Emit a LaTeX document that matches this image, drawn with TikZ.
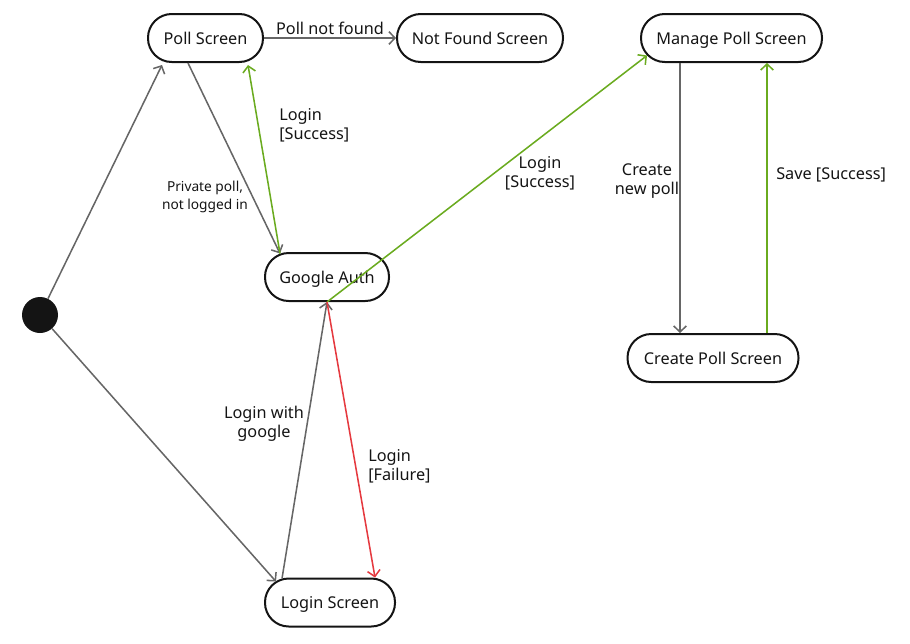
\documentclass[tikz,border=0pt]{standalone}
\usepackage{fontspec}
\setmainfont{Noto Sans}
\usetikzlibrary{arrows.meta,calc}
\definecolor{edgegray}{HTML}{666666}
\definecolor{okgreen}{HTML}{6AAB1F}
\definecolor{badred}{HTML}{E5393F}
\definecolor{ink}{HTML}{141414}
\begin{document}
\begin{tikzpicture}[x=0.75pt,y=-0.75pt,
  state/.style={draw=ink,line width=1.5pt,rounded corners=17.8pt,minimum height=36pt,
    inner sep=0pt,font=\fontsize{12.2}{14}\selectfont,text=ink,text height=9.4pt,text depth=0pt},
  edge/.style={line width=1.15pt,draw=edgegray,-{Straight Barb[length=4.5pt,width=9.5pt]}},
  okedge/.style={edge,draw=okgreen},
  badedge/.style={edge,draw=badred},
  lbl/.style={font=\fontsize{12.2}{14.2}\selectfont,text=ink,inner sep=0pt},
  slbl/.style={font=\fontsize{10.3}{13.5}\selectfont,text=ink,inner sep=0pt}]
\useasboundingbox (0,0) rectangle (910,643);
\node[state,minimum width=86.25pt] (poll) at (205.5,38) {Poll Screen};
\node[state,minimum width=124.5pt] (notfound) at (480,38) {Not Found Screen};
\node[state,minimum width=135.75pt] (manage) at (731.5,38) {Manage Poll Screen};
\node[state,minimum width=93pt] (google) at (327,277) {Google Auth};
\node[state,minimum width=128.25pt] (create) at (713,358) {Create Poll Screen};
\node[state,minimum width=97.5pt] (login) at (330,602.5) {Login Screen};
\node[circle,fill=ink,draw=none,minimum size=27pt,inner sep=0pt] (init) at (40,315) {};

\draw[edge] (init) -- ($(poll.south)+(-43.5,2)$);
\draw[edge] (init) -- ($(login.north)+(-54,4)$);
\draw[edge] (poll.east) -- node[lbl,above=2pt] {Poll not found} (notfound.west);
\draw[edge] ($(poll.south)+(-17.5,0)$) -- ($(google.north)+(-47,1.5)$);
\node[slbl,align=center] (privlbl) at (205,197) {Private poll,\\not logged in};
\draw[okedge] ($(google.north)+(-47,1.5)$) -- ($(poll.south)+(42.5,2)$);
\node[lbl,align=left,anchor=west] (succ1) at (279,125.5) {Login\\{}[Success]};
\draw[okedge] (google.south) -- ($(manage.south west)+(7,-7.5)$);
\node[lbl,align=center] (succ2) at (540,173.5) {Login\\{}[Success]};
\draw[edge] ($(manage.south)+(-51.5,0)$) -- ($(create.north)+(-33,0)$);
\node[lbl,align=center] (newlbl) at (647,181.5) {Create\\new poll};
\draw[okedge] ($(create.north)+(54,0)$) -- ($(manage.south)+(35.5,0)$);
\node[lbl,anchor=west] (savelbl) at (776,175) {Save [Success]};
\draw[edge] ($(login.north)+(-48,1)$) -- (google.south);
\node[lbl,align=center] (withlbl) at (264,423.5) {Login with\\google};
\draw[badedge] (google.south) -- ($(login.north)+(45,0)$);
\node[lbl,align=left,anchor=west] (faillbl) at (368,466.5) {Login\\{}[Failure]};
\end{tikzpicture}
\end{document}
